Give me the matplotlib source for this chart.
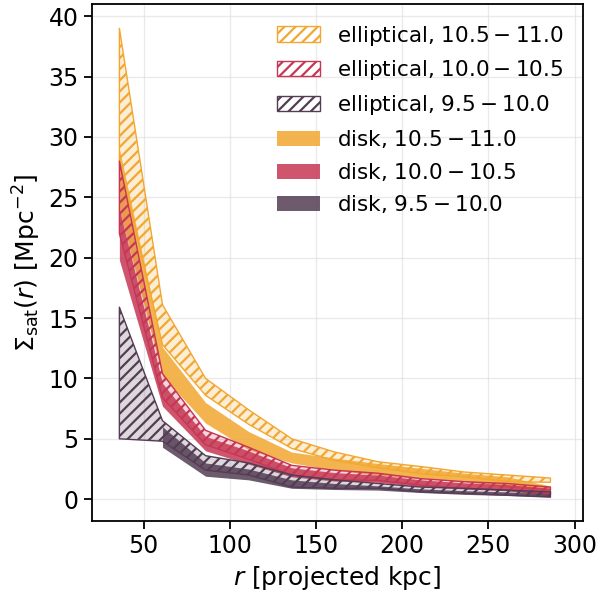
import numpy as np
import matplotlib
matplotlib.use('Agg')
from matplotlib import pyplot as plt
from matplotlib.patches import Patch

# projected radius bins [kpc]
r = [36, 61, 86, 111, 136, 161, 186, 211, 236, 261, 286]

# elliptical hosts, bands (lower, upper)
ell_hi_lo = [28.0, 12.8, 8.6, 6.2, 4.2, 3.2, 2.6, 2.1, 1.85, 1.45, 1.4]
ell_hi_up = [39.0, 16.1, 10.0, 7.4, 5.0, 3.9, 3.1, 2.7, 2.25, 2.0, 1.75]
ell_mid_lo = [22.0, 8.4, 4.5, 3.3, 2.0, 1.6, 1.55, 1.15, 0.9, 0.75, 0.4]
ell_mid_up = [28.0, 10.4, 5.7, 4.3, 2.8, 2.4, 2.15, 1.7, 1.45, 1.3, 1.0]
ell_low_lo = [5.0, 4.8, 2.4, 2.0, 1.0, 0.9, 0.9, 0.6, 0.47, 0.33, 0.2]
ell_low_up = [15.9, 6.5, 3.6, 3.0, 2.0, 1.6, 1.3, 1.0, 0.9, 0.75, 0.6]

# disk hosts, bands (lower, upper); first bin empty for the lowest mass
disk_hi_lo = [24.0, 10.2, 6.3, 4.1, 3.0, 2.4, 2.0, 1.7, 1.45, 1.0, 0.7]
disk_hi_up = [29.0, 12.6, 8.0, 5.6, 3.9, 3.4, 2.95, 2.55, 2.15, 1.85, 1.1]
disk_mid_lo = [19.8, 7.7, 4.0, 2.9, 1.85, 1.5, 1.4, 1.05, 0.85, 0.7, 0.3]
disk_mid_up = [24.0, 9.6, 5.2, 4.0, 2.6, 2.2, 2.0, 1.6, 1.35, 1.2, 0.9]
disk_low_lo = [np.nan, 4.3, 1.9, 1.6, 0.9, 0.8, 0.75, 0.55, 0.4, 0.3, 0.15]
disk_low_up = [np.nan, 6.0, 3.0, 2.5, 1.6, 1.3, 1.1, 0.85, 0.7, 0.6, 0.45]

mass_bins = ['10.5-11.0', '10.0-10.5', '9.5-10.0']
colors = ['#F2A731', '#C63754', '#543D54']

ell_bands = [(ell_hi_lo, ell_hi_up), (ell_mid_lo, ell_mid_up), (ell_low_lo, ell_low_up)]
disk_bands = [(disk_hi_lo, disk_hi_up), (disk_mid_lo, disk_mid_up), (disk_low_lo, disk_low_up)]

plt.rcParams['hatch.linewidth'] = 1.6

fig = plt.figure(figsize=(6, 5.96), dpi=100)
ax = fig.add_axes([0.153, 0.126, 0.819, 0.867])

x = np.array(r)
for (lo, up), c in zip(disk_bands, colors):
    ax.fill_between(x, lo, up, color=c, alpha=0.85, lw=0, zorder=2)
for (lo, up), c in zip(ell_bands, colors):
    ax.fill_between(x, lo, up, facecolor=matplotlib.colors.to_rgba(c, 0.2),
                    edgecolor=c, hatch='///', lw=1.0, zorder=3)

handles = []
for c, m in zip(colors, mass_bins):
    a, b = m.split('-')
    handles.append(Patch(facecolor='white', edgecolor=c, hatch='///',
                         lw=1.0, label=f'elliptical, ${a}-{b}$'))
for c, m in zip(colors, mass_bins):
    a, b = m.split('-')
    handles.append(Patch(facecolor=c, alpha=0.85, lw=0,
                         label=f'disk, ${a}-{b}$'))

ax.legend(handles=handles, loc='upper right', frameon=False, fontsize=15.5)

ax.set_xlim(20, 305)
ax.set_ylim(-1.8, 41)
ax.set_xticks([50, 100, 150, 200, 250, 300])
ax.set_yticks([0, 5, 10, 15, 20, 25, 30, 35, 40])
ax.grid(True, color='#dddddd', lw=1, alpha=0.6, zorder=0)
ax.set_axisbelow(True)
ax.tick_params(direction='out', length=6, width=1.3, labelsize=17)
for s in ax.spines.values():
    s.set_linewidth(1.3)

ax.set_xlabel(r'$r$ [projected kpc]', fontsize=18)
ax.set_ylabel(r'$\Sigma_{\rm sat}(r)$ [Mpc$^{-2}$]', fontsize=18)

fig.savefig('out.png', dpi=100)
